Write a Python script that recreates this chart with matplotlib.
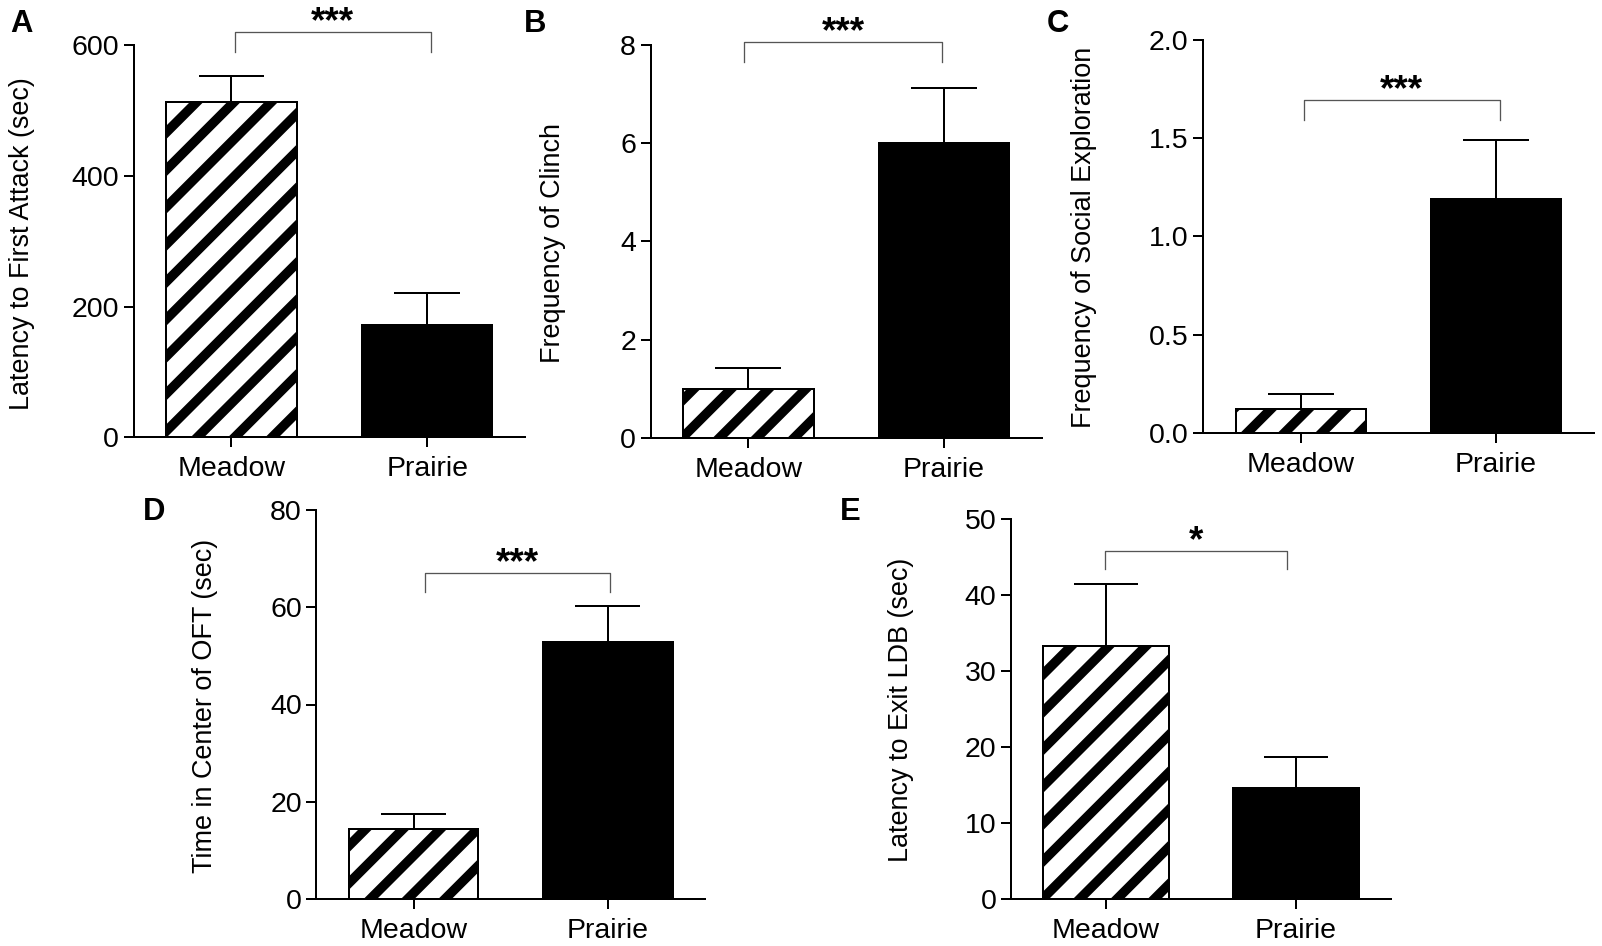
import matplotlib
matplotlib.use('Agg')
import matplotlib.pyplot as plt

DPI = 224
W, H = 1602, 946
P = 72.0 / DPI  # pixel -> point

plt.rcParams['font.family'] = ['Liberation Sans', 'DejaVu Sans']
plt.rcParams['hatch.linewidth'] = 9.5 * P
plt.rcParams['hatch.color'] = 'black'

# ---------------- data ----------------
categories = ['Meadow', 'Prairie']

attack_mean = [513, 171]
attack_sem = [40, 49]

clinch_mean = [1.0, 6.0]
clinch_sem = [0.43, 1.13]

social_mean = [0.12, 1.19]
social_sem = [0.077, 0.30]

oft_mean = [14.4, 52.9]
oft_sem = [3.1, 7.4]

ldb_mean = [33.3, 14.6]
ldb_sem = [8.1, 4.1]

panel_letters = ['A', 'B', 'C', 'D', 'E']
ylabels = ['Latency to First Attack (sec)', 'Frequency of Clinch',
           'Frequency of Social Exploration', 'Time in Center of OFT (sec)',
           'Latency to Exit LDB (sec)']
yticks_list = [[0, 200, 400, 600], [0, 2, 4, 6, 8],
               [0.0, 0.5, 1.0, 1.5, 2.0], [0, 20, 40, 60, 80],
               [0, 10, 20, 30, 40, 50]]
ytick_labels = [['0', '200', '400', '600'], ['0', '2', '4', '6', '8'],
                ['0.0', '0.5', '1.0', '1.5', '2.0'],
                ['0', '20', '40', '60', '80'],
                ['0', '10', '20', '30', '40', '50']]
sig_labels = ['***', '***', '***', '***', '*']
bracket_top = [620, 8.06, 1.694, 67.0, 45.75]
bracket_drop = [589.5, 7.65, 1.593, 63.2, 43.4]
bracket_x = [(0.017, 1.018), (-0.02, 0.99), (0.015, 1.02), (0.06, 1.01), (-0.005, 0.95)]

means = [attack_mean, clinch_mean, social_mean, oft_mean, ldb_mean]
sems = [attack_sem, clinch_sem, social_sem, oft_sem, ldb_sem]

# ---------------- layout (pixels) ----------------
axes_px = [(133.6, 45, 391.4, 392.3),
           (650.5, 45, 391.4, 392.7),
           (1203, 40, 390.8, 392.7),
           (316.4, 510, 388.6, 389),
           (1011, 519, 380, 380)]
label_coords = [(-0.253, 0.4935), (-0.217, 0.495), (-0.270, 0.498),
                (-0.2545, 0.497), (-0.256, 0.497)]
letter_pos = [(10, 32), (524, 32), (1047, 32), (142.5, 520.5), (840, 520.5)]

fig = plt.figure(figsize=(W / DPI, H / DPI), dpi=DPI)
fig.patch.set_facecolor('white')

x = [0, 1]
bar_w = 0.667
cap_half = 0.168
LW = 2 * P

for i in range(5):
    l, t, w, h = axes_px[i]
    ax = fig.add_axes([l / W, 1 - (t + h) / H, w / W, h / H])
    m = means[i]
    s = sems[i]
    ax.bar(x[0], m[0], width=bar_w, color='white', edgecolor='black',
           linewidth=LW, hatch='//', zorder=2)
    ax.bar(x[1], m[1], width=bar_w, color='black', edgecolor='black',
           linewidth=LW, zorder=2)
    tops = [m[k] + s[k] for k in range(2)]
    ax.vlines(x, m, tops, colors='black', linewidth=LW, zorder=3)
    ax.hlines(tops, [xx - cap_half for xx in x], [xx + cap_half for xx in x],
              colors='black', linewidth=LW, zorder=3)

    ax.set_xlim(-0.5, 1.5)
    ax.set_ylim(yticks_list[i][0], yticks_list[i][-1])
    ax.set_yticks(yticks_list[i])
    ax.set_yticklabels(ytick_labels[i])
    ax.set_xticks(x)
    ax.set_xticklabels(categories)

    for sp in ['top', 'right']:
        ax.spines[sp].set_visible(False)
    for sp in ['left', 'bottom']:
        ax.spines[sp].set_linewidth(LW)
        ax.spines[sp].set_color('black')

    ax.tick_params(axis='y', direction='out', length=10 * P, width=LW,
                   labelsize=28.5 * P, pad=4.5 * P, colors='black')
    ax.tick_params(axis='x', direction='out', length=10 * P, width=LW,
                   labelsize=28.5 * P, pad=9 * P, colors='black')

    ax.set_ylabel(ylabels[i], fontsize=27 * P)
    ax.yaxis.set_label_coords(*label_coords[i])

    # significance bracket
    bx0, bx1 = bracket_x[i]
    ax.plot([bx0, bx0, bx1, bx1],
            [bracket_drop[i], bracket_top[i], bracket_top[i], bracket_drop[i]],
            color='#555555', linewidth=1.3 * P, clip_on=False, zorder=4)
    ax.text((bx0 + bx1) / 2, bracket_top[i], sig_labels[i], ha='center',
            va='baseline', fontsize=37 * P, fontweight='bold', clip_on=False)

    lx, ly = letter_pos[i]
    fig.text(lx / W, 1 - ly / H, panel_letters[i], ha='left', va='baseline',
             fontsize=31 * P, fontweight='bold')

fig.savefig('out.png', dpi=DPI, facecolor='white')
